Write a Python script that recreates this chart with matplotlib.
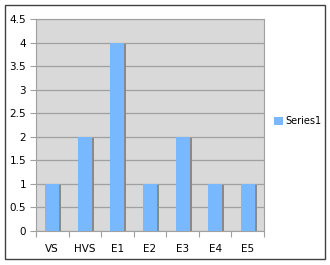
import numpy as np
import matplotlib.pyplot as plt
from matplotlib.patches import Rectangle

categories = ['VS', 'HVS', 'E1', 'E2', 'E3', 'E4', 'E5']
series1 = [1, 2, 4, 1, 2, 1, 1]
yticks = [0, 0.5, 1, 1.5, 2, 2.5, 3, 3.5, 4, 4.5]

W, H = 330, 265
fig = plt.figure(figsize=(W / 100, H / 100), dpi=100)
fig.patch.set_facecolor('white')

# outer frame
fig.add_artist(Rectangle((4.5 / W, 6.5 / H), 320.5 / W, 254 / H, transform=fig.transFigure,
                         fill=False, edgecolor='#404040', linewidth=1.0))

ax = fig.add_axes([36 / W, (H - 231) / H, 228 / W, 212 / H])
ax.set_facecolor('#d9d9d9')

x = np.arange(len(categories))
vals = np.array(series1, dtype=float)
# shadow then bar
ax.bar(x + 0.06, vals - 0.03, width=0.43, color='#8a8a8a', zorder=2)
bars = ax.bar(x, vals, width=0.43, color='#78b8ff', zorder=3, label='Series1')

ax.set_xlim(-0.5, len(categories) - 0.5)
ax.set_ylim(0, 4.5)
ax.set_yticks(yticks)
ax.set_yticklabels([('%g' % v) for v in yticks])
ax.yaxis.grid(True, color='#a0a0a0', linewidth=0.9, zorder=1)
ax.set_axisbelow(True)

ax.set_xticks(x)
ax.set_xticklabels(categories)
ax.set_xticks(np.arange(len(categories) + 1) - 0.5, minor=True)
ax.tick_params(axis='x', which='major', length=0, pad=9, labelsize=7.5, colors='#000000')
ax.tick_params(axis='x', which='minor', length=4, color='#a0a0a0', width=0.8)
ax.tick_params(axis='y', length=4, color='#a0a0a0', width=0.8, labelsize=7.5, pad=3)

for s in ax.spines.values():
    s.set_color('#a0a0a0')

leg = fig.legend(handles=[bars], labels=['Series1'], loc='center left',
                 bbox_to_anchor=(274 / W, (H - 121) / H), frameon=False,
                 fontsize=7, handlelength=0.9, handleheight=0.9, handletextpad=0.3,
                 borderpad=0, borderaxespad=0)

fig.savefig('out.png', dpi=100)
